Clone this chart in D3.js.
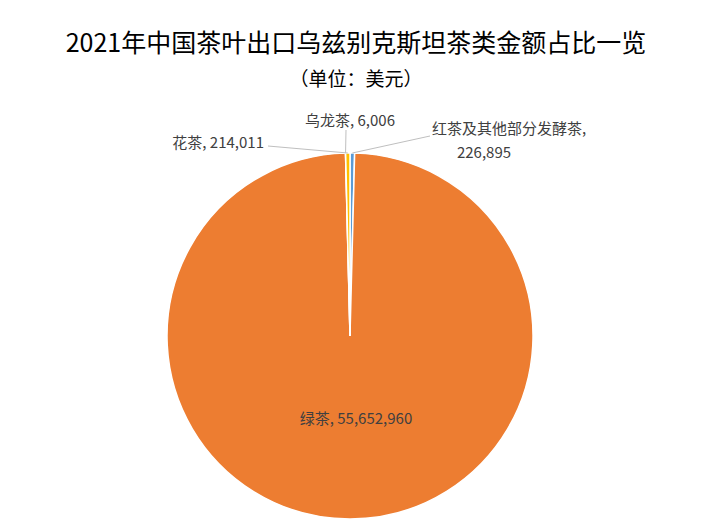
<!DOCTYPE html>
<html><head><meta charset="utf-8">
<script src="https://cdn.jsdelivr.net/npm/d3@7"></script>
<style>body{margin:0;background:#fff}svg{font-family:"Microsoft YaHei","Noto Sans CJK SC",sans-serif}</style>
</head><body><svg width="712" height="530"></svg>
<script>
const categories=["红茶及其他部分发酵茶","绿茶","乌龙茶","花茶"];
const values=[226895,55652960,6006,214011];
const colors=["#5B9BD5","#ED7D31","#A5A5A5","#FFC000"];
const svg=d3.select("svg");
svg.append("text").attr("x",356).attr("y",52).attr("text-anchor","middle").attr("font-size",25).attr("fill","#000").text("2021年中国茶叶出口乌兹别克斯坦茶类金额占比一览");
svg.append("text").attr("x",356).attr("y",86).attr("text-anchor","middle").attr("font-size",19).attr("fill","#000").text("（单位：美元）");
const cx=350,cy=336,r=183;
const pie=d3.pie().sort(null).value(d=>d)(values);
const arc=d3.arc().innerRadius(0).outerRadius(r);
const g=svg.append("g").attr("transform",`translate(${cx},${cy})`);
g.selectAll("path").data(pie).join("path").attr("d",arc).attr("fill",(d,i)=>colors[i]).attr("stroke","#fff").attr("stroke-width",1.5);
const fmt=d3.format(",");
const lc="#BFBFBF";
// leader lines
function edge(d){const a=(d.startAngle+d.endAngle)/2;return [cx+Math.sin(a)*r,cy-Math.cos(a)*r];}
const e0=edge(pie[0]),e2=edge(pie[2]),e3=edge(pie[3]);
svg.append("polyline").attr("points",`${e0[0]},${e0[1]} 430,136`).attr("fill","none").attr("stroke",lc);
svg.append("polyline").attr("points",`${e2[0]},${e2[1]} 346,130`).attr("fill","none").attr("stroke",lc);
svg.append("polyline").attr("points",`${e3[0]},${e3[1]} 268,146`).attr("fill","none").attr("stroke",lc);
const t=(x,y,s,a)=>svg.append("text").attr("x",x).attr("y",y).attr("text-anchor",a||"start").attr("font-size",15).attr("fill","#404040").text(s);
t(432,134,categories[0]+",");
t(484,158,fmt(values[0]),"middle");
t(350,126,categories[2]+", "+fmt(values[2]),"middle");
t(264,148,categories[3]+", "+fmt(values[3]),"end");
const c1=arc.centroid(pie[1]);
t(356,424,categories[1]+", "+fmt(values[1]),"middle");
</script></body></html>
